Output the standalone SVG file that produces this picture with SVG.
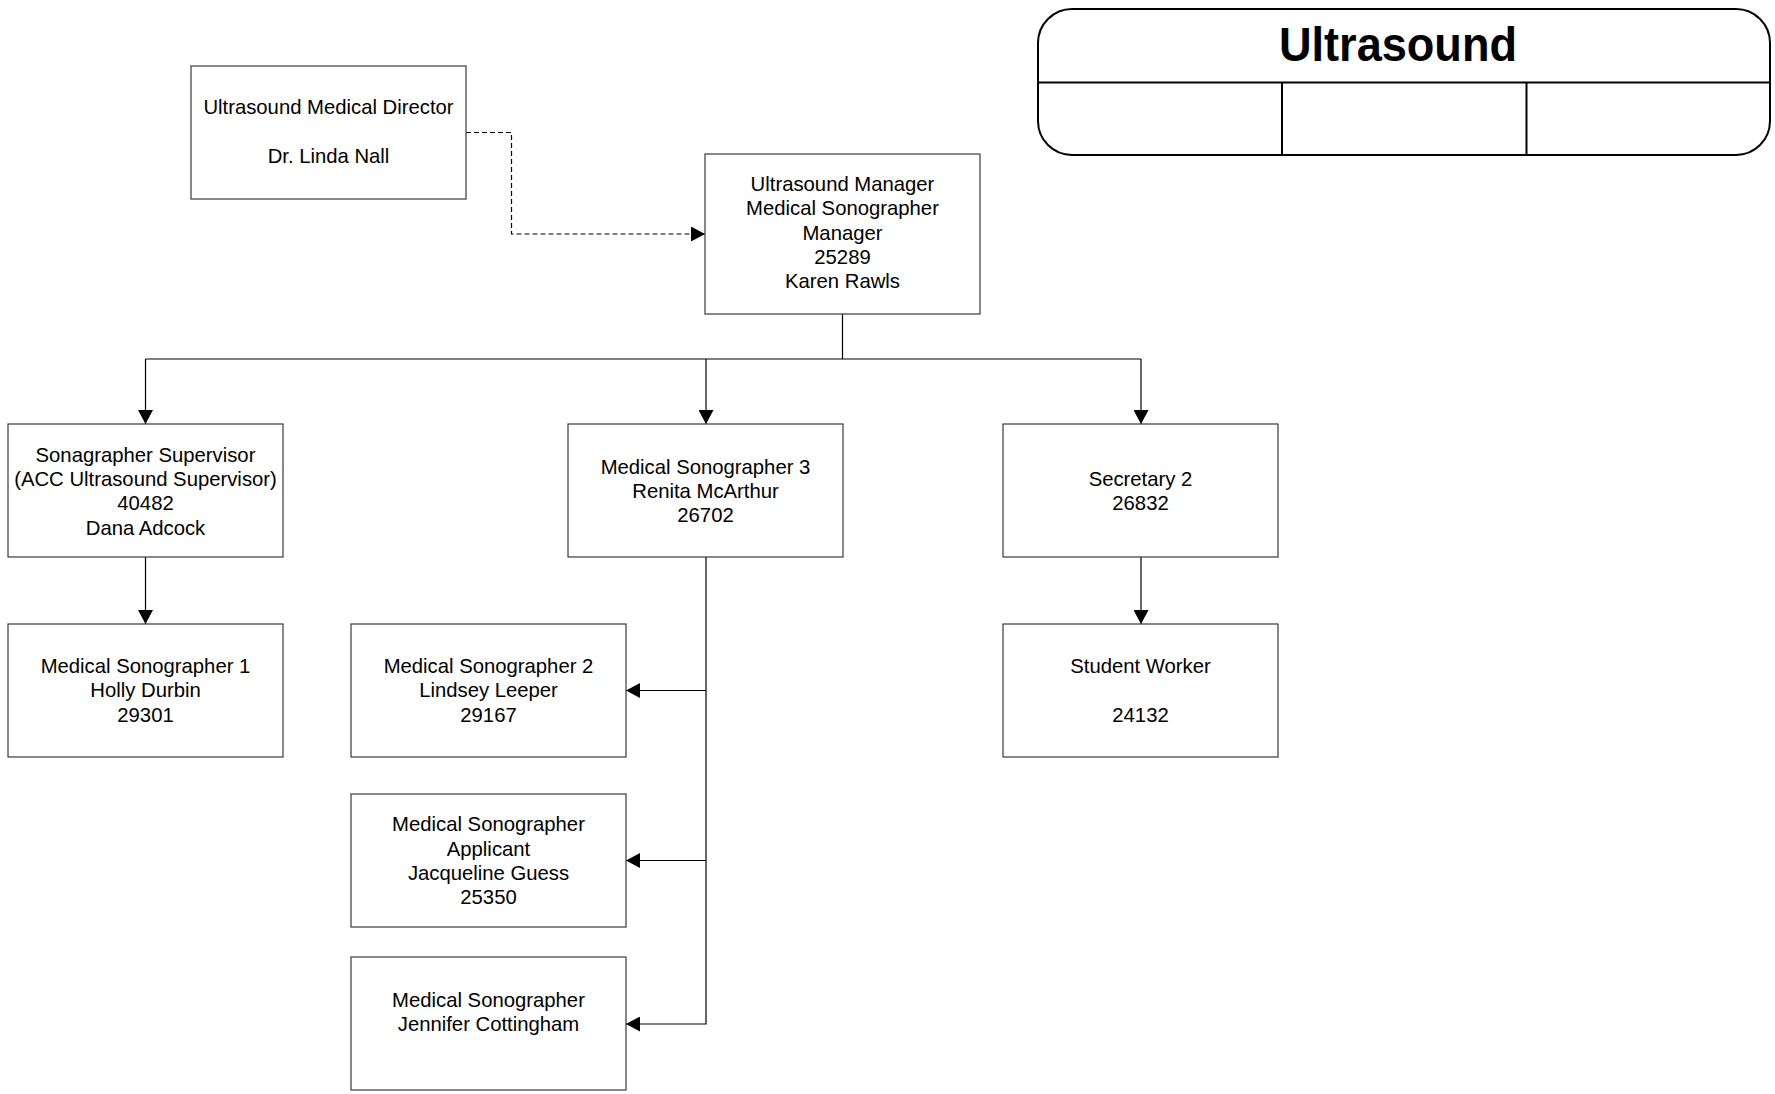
<svg xmlns="http://www.w3.org/2000/svg" width="1775" height="1094" viewBox="0 0 1775 1094">
<style>
.box{fill:#fff;stroke:#3a3a3a;stroke-width:1.2}
.t{font-family:"Liberation Sans",Arial,sans-serif;font-size:20.3px;fill:#000;text-anchor:middle}
.c{fill:none;stroke:#000;stroke-width:1.2}
.d{fill:none;stroke:#000;stroke-width:1.2;stroke-dasharray:5,3}
.hdr{fill:none;stroke:#000;stroke-width:2}
</style>
<defs>
<marker id="ah" markerUnits="userSpaceOnUse" markerWidth="15" markerHeight="15" refX="14" refY="7.5" orient="auto" viewBox="0 0 15 15">
<path d="M0,0 L14,7.5 L0,15 Z" fill="#000"/>
</marker>
</defs>
<g id="title">
<rect x="1038" y="9" width="732" height="146" rx="34" ry="34" fill="#fff" class="hdr"/>
<line x1="1038" y1="82.5" x2="1770" y2="82.5" class="hdr"/>
<line x1="1282" y1="82.5" x2="1282" y2="155" class="hdr"/>
<line x1="1526.5" y1="82.5" x2="1526.5" y2="155" class="hdr"/>
<text x="1398" y="61" font-family="'Liberation Sans',Arial,sans-serif" font-weight="bold" font-size="48" text-anchor="middle" textLength="238" lengthAdjust="spacingAndGlyphs">Ultrasound</text>
</g>
<g id="connectors">
<path class="d" d="M466,132.5 H511.5 V234 H705" marker-end="url(#ah)"/>
<path class="c" d="M842.5,314 V359 M145.5,359 H1141"/>
<path class="c" d="M145.5,359 V424" marker-end="url(#ah)"/>
<path class="c" d="M706,359 V424" marker-end="url(#ah)"/>
<path class="c" d="M1141,359 V424" marker-end="url(#ah)"/>
<path class="c" d="M145.5,557 V624" marker-end="url(#ah)"/>
<path class="c" d="M1141,557 V624" marker-end="url(#ah)"/>
<path class="c" d="M706,557 V1024 H626" marker-end="url(#ah)"/>
<path class="c" d="M706,690.5 H626" marker-end="url(#ah)"/>
<path class="c" d="M706,860.5 H626" marker-end="url(#ah)"/>
</g>
<g id="director">
<rect class="box" x="191" y="66" width="275" height="133"/>
<text class="t" x="328.5" y="113.5">Ultrasound Medical Director</text>
<text class="t" x="328.5" y="162.5">Dr. Linda Nall</text>
</g>
<g id="manager">
<rect class="box" x="705" y="154" width="275" height="160"/>
<text class="t" x="842.5" y="191">Ultrasound Manager</text>
<text class="t" x="842.5" y="215.3">Medical Sonographer</text>
<text class="t" x="842.5" y="239.6">Manager</text>
<text class="t" x="842.5" y="263.9">25289</text>
<text class="t" x="842.5" y="288.2">Karen Rawls</text>
</g>
<g id="supervisor">
<rect class="box" x="8" y="424" width="275" height="133"/>
<text class="t" x="145.5" y="461.7">Sonagrapher Supervisor</text>
<text class="t" x="145.5" y="486">(ACC Ultrasound Supervisor)</text>
<text class="t" x="145.5" y="510.3">40482</text>
<text class="t" x="145.5" y="534.6">Dana Adcock</text>
</g>
<g id="sono3">
<rect class="box" x="568" y="424" width="275" height="133"/>
<text class="t" x="705.5" y="473.5">Medical Sonographer 3</text>
<text class="t" x="705.5" y="497.8">Renita McArthur</text>
<text class="t" x="705.5" y="522.1">26702</text>
</g>
<g id="secretary">
<rect class="box" x="1003" y="424" width="275" height="133"/>
<text class="t" x="1140.5" y="485.5">Secretary 2</text>
<text class="t" x="1140.5" y="509.8">26832</text>
</g>
<g id="sono1">
<rect class="box" x="8" y="624" width="275" height="133"/>
<text class="t" x="145.5" y="673">Medical Sonographer 1</text>
<text class="t" x="145.5" y="697.3">Holly Durbin</text>
<text class="t" x="145.5" y="721.6">29301</text>
</g>
<g id="sono2">
<rect class="box" x="351" y="624" width="275" height="133"/>
<text class="t" x="488.5" y="673">Medical Sonographer 2</text>
<text class="t" x="488.5" y="697.3">Lindsey Leeper</text>
<text class="t" x="488.5" y="721.6">29167</text>
</g>
<g id="student">
<rect class="box" x="1003" y="624" width="275" height="133"/>
<text class="t" x="1140.5" y="673">Student Worker</text>
<text class="t" x="1140.5" y="721.6">24132</text>
</g>
<g id="applicant">
<rect class="box" x="351" y="794" width="275" height="133"/>
<text class="t" x="488.5" y="831.3">Medical Sonographer</text>
<text class="t" x="488.5" y="855.6">Applicant</text>
<text class="t" x="488.5" y="879.9">Jacqueline Guess</text>
<text class="t" x="488.5" y="904.2">25350</text>
</g>
<g id="cottingham">
<rect class="box" x="351" y="957" width="275" height="133"/>
<text class="t" x="488.5" y="1006.5">Medical Sonographer</text>
<text class="t" x="488.5" y="1030.8">Jennifer Cottingham</text>
</g>
</svg>
